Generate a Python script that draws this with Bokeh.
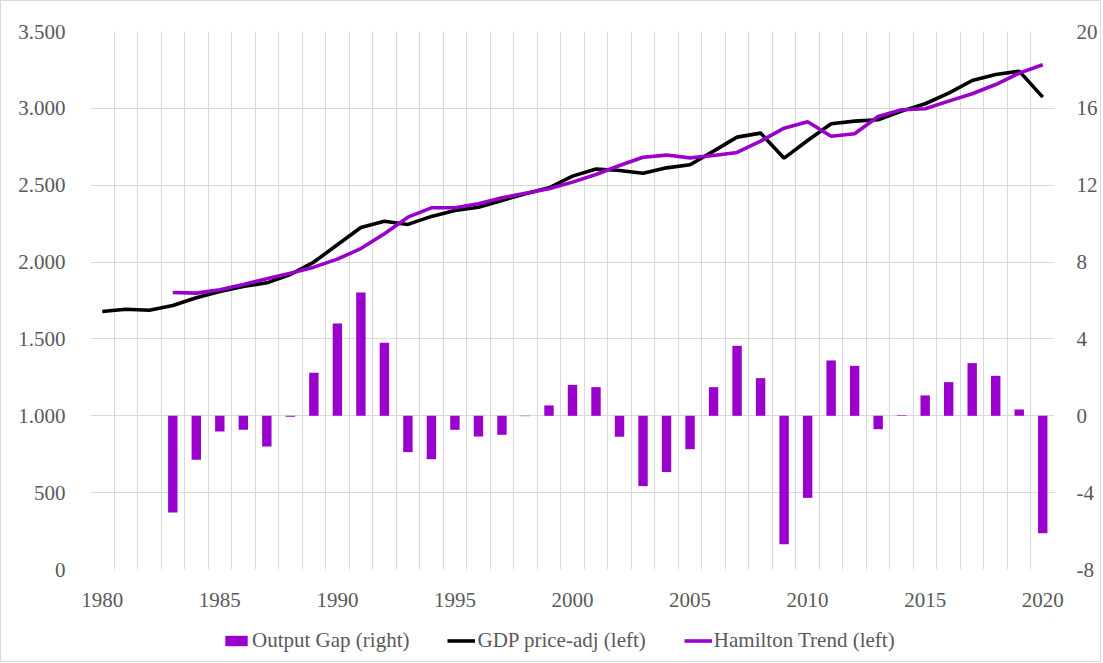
from bokeh.plotting import figure
from bokeh.layouts import column
from bokeh.models import (Range1d, LinearAxis, FixedTicker, Legend, LegendItem)
from bokeh.embed import file_html
from bokeh.resources import INLINE

years = list(range(1980, 2021))
gdp = [1678, 1693, 1687, 1717, 1768, 1809, 1841, 1865, 1919, 2000,
       2113, 2225, 2266, 2245, 2297, 2336, 2357, 2401, 2444, 2483,
       2559, 2605, 2596, 2578, 2613, 2633, 2722, 2813, 2839, 2676,
       2791, 2900, 2917, 2926, 2982, 3030, 3099, 3181, 3220, 3242, 3073]
trend_years = list(range(1983, 2021))
trend = [1802, 1798, 1820, 1854, 1891, 1928, 1967, 2019, 2088, 2184,
         2292, 2353, 2353, 2379, 2418, 2448, 2477, 2520, 2570, 2628,
         2682, 2696, 2678, 2693, 2713, 2787, 2871, 2913, 2819, 2835,
         2947, 2991, 2997, 3047, 3095, 3155, 3229, 3284]
gap = [-5.03, -2.29, -0.82, -0.73, -1.60, -0.05, 2.24, 4.80, 6.42, 3.80,
       -1.89, -2.26, -0.73, -1.08, -0.99, -0.02, 0.54, 1.61, 1.49, -1.09,
       -3.66, -2.93, -1.74, 1.49, 3.64, 1.96, -6.68, -4.27, 2.88, 2.60,
       -0.70, 0.03, 1.06, 1.75, 2.74, 2.08, 0.33, -6.11]

left_ticks = [0, 500, 1000, 1500, 2000, 2500, 3000, 3500]
left_labels = ["0", "500", "1.000", "1.500", "2.000", "2.500", "3.000", "3.500"]
right_ticks = [-8, -4, 0, 4, 8, 12, 16, 20]
right_labels = ["-8", "-4", "0", "4", "8", "12", "16", "20"]
x_ticks = [1980, 1985, 1990, 1995, 2000, 2005, 2010, 2015, 2020]
legend_labels = ["Output Gap (right)", "GDP price-adj (left)", "Hamilton Trend (left)"]

PURPLE = "#9900cc"
TXT = "#595959"
GRID = "#d9d9d9"
FONT = "Liberation Serif"
LW = 3.6

p = figure(width=1099, height=620, output_backend="svg", toolbar_location=None,
           x_range=Range1d(1979.5, 2020.5), y_range=Range1d(0, 3500),
           min_border_left=89, min_border_right=44, min_border_top=30, min_border_bottom=52,
           outline_line_color=None)
p.extra_y_ranges = {"gap": Range1d(-8, 20)}

p.vbar(x=trend_years, top=gap, bottom=0, width=0.4, y_range_name="gap",
       fill_color=PURPLE, line_color=None)
p.line(years, gdp, line_color="black", line_width=LW)
p.line(trend_years, trend, line_color=PURPLE, line_width=LW)

p.xaxis.ticker = FixedTicker(ticks=x_ticks)
p.yaxis.ticker = FixedTicker(ticks=left_ticks)
p.yaxis.major_label_overrides = {t: l for t, l in zip(left_ticks, left_labels)}
ra = LinearAxis(y_range_name="gap", ticker=FixedTicker(ticks=right_ticks))
ra.major_label_overrides = {t: l for t, l in zip(right_ticks, right_labels)}
p.add_layout(ra, "right")

for ax in [p.xaxis[0], p.yaxis[0], ra]:
    ax.axis_line_color = None
    ax.major_tick_line_color = None
    ax.minor_tick_line_color = None
    ax.major_tick_out = 0
    ax.major_tick_in = 0
    ax.major_label_text_font = FONT
    ax.major_label_text_font_size = "21px"
    ax.major_label_text_color = TXT
p.xaxis.major_label_standoff = 23
p.yaxis[0].major_label_standoff = 25
ra.major_label_standoff = 22

p.xgrid.ticker = FixedTicker(ticks=[y + 0.5 for y in range(1979, 2021)])
p.xgrid.grid_line_color = GRID
p.ygrid.grid_line_color = GRID

# legend strip (second figure, frame aligned with the main one)
lg = figure(width=1099, height=40, output_backend="svg", toolbar_location=None,
            x_range=Range1d(0, 1), y_range=Range1d(0, 1),
            min_border=0, outline_line_color=None)
lg.axis.visible = False
lg.grid.visible = False
d_bar = lg.vbar(x=[50], top=[60], bottom=50, width=0.1, fill_color=PURPLE, line_color=None)
d_gdp = lg.line(x=[50, 60], y=[50, 60], line_color="black", line_width=LW)
d_tr = lg.line(x=[50, 60], y=[50, 60], line_color=PURPLE, line_width=LW)
legend = Legend(items=[
    LegendItem(label=legend_labels[0], renderers=[d_bar]),
    LegendItem(label=legend_labels[1], renderers=[d_gdp]),
    LegendItem(label=legend_labels[2], renderers=[d_tr]),
], orientation="horizontal", location=(132, 8),
    label_text_font=FONT, label_text_font_size="21px", label_text_color=TXT,
    glyph_width=28, glyph_height=13, label_standoff=2, spacing=38,
    border_line_color=None, background_fill_alpha=0, margin=0, padding=4)
lg.add_layout(legend, "center")

layout = column(p, lg, spacing=0)
layout.styles = {"border": "1px solid #d9d9d9"}

open("out.html", "w").write(file_html(layout, INLINE))
